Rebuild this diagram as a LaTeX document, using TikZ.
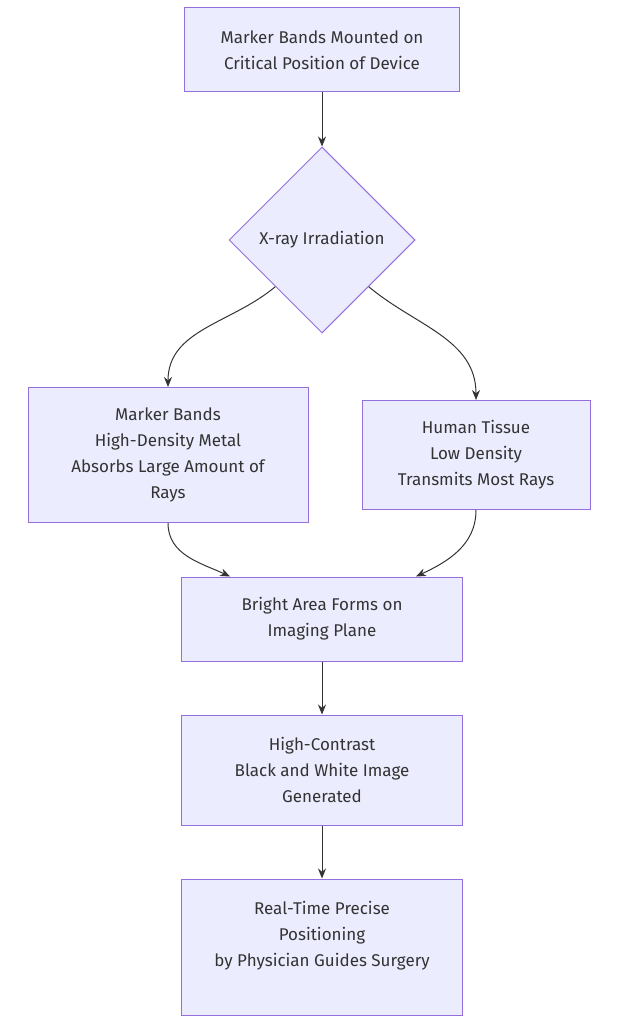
\documentclass[tikz,border=0pt]{standalone}
\usepackage{fontspec}
\setmainfont{Fira Sans}
\usepackage{tikz}
\usetikzlibrary{arrows.meta,shapes.geometric}
\definecolor{boxfill}{HTML}{ECECFF}
\definecolor{boxline}{HTML}{9370DB}
\definecolor{linkcol}{HTML}{333333}
\tikzset{
  box/.style={draw=boxline, fill=boxfill, line width=1pt, align=center, inner sep=0pt,
    font=\fontsize{17}{26}\selectfont, text=linkcol},
  decision/.style={box, shape=diamond, minimum width=186pt, minimum height=186pt},
  link/.style={draw=linkcol, line width=1pt, -{Stealth[length=10pt,width=8pt]}}
}

\begin{document}
\begin{tikzpicture}[x=1pt,y=-1pt]
\useasboundingbox (0,0) rectangle (632,1024);
\node[box, minimum width=275pt, minimum height=84pt] (mount) at (322,50) {Marker Bands Mounted on\\Critical Position of Device};
\node[decision] (xray) at (322,240) {X-ray Irradiation};
\node[box, minimum width=280pt, minimum height=135pt] (metal) at (168,455) {Marker Bands\\High-Density Metal\\Absorbs Large Amount of\\Rays};
\node[box, minimum width=228pt, minimum height=109pt] (tissue) at (476,455) {Human Tissue\\Low Density\\Transmits Most Rays};
\node[box, minimum width=281pt, minimum height=84pt] (bright) at (322,619) {Bright Area Forms on\\Imaging Plane};
\node[box, minimum width=281pt, minimum height=110pt] (image) at (322,770) {High-Contrast\\Black and White Image\\Generated};
\node[box, minimum width=281pt, minimum height=136pt] (guide) at (322,947) {Real-Time Precise\\Positioning\\by Physician Guides Surgery\\\mbox{}};

\draw[link] (mount) -- (xray);
\draw[link] (xray.south west) to[out=-140, in=90] (metal.north);
\draw[link] (xray.south east) to[out=-40, in=90] (tissue.north);
\draw[link] (metal.south) to[out=-90, in=155] ([xshift=-92pt]bright.north);
\draw[link] (tissue.south) to[out=-90, in=25] ([xshift=94pt]bright.north);
\draw[link] (bright) -- (image);
\draw[link] (image) -- (guide);
\end{tikzpicture}
\end{document}
